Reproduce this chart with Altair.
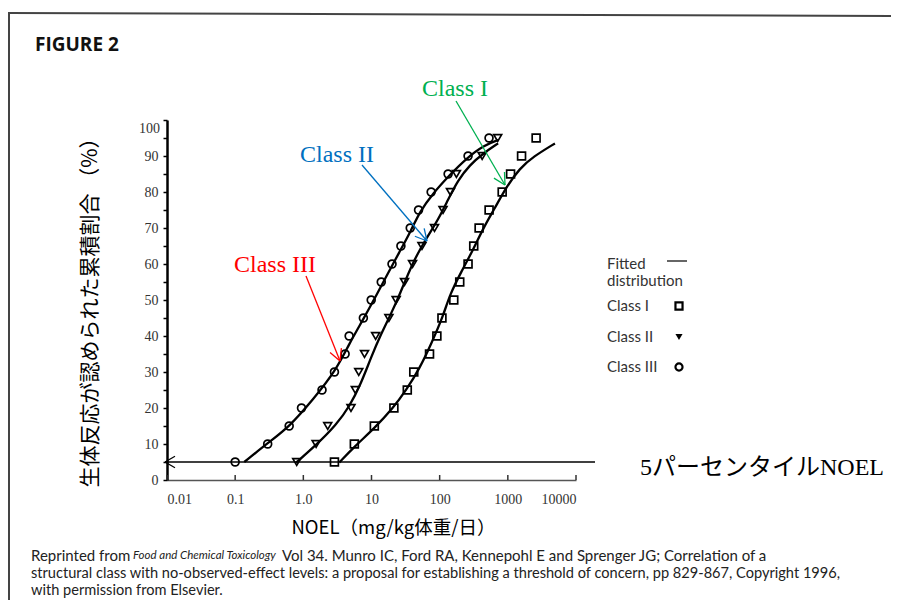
import math
import altair as alt
import pandas as pd

# ---------------- data ----------------
LEVELS = [5, 10, 15, 20, 25, 30, 35, 40, 45, 50, 55, 60, 65, 70, 75, 80, 85, 90, 95]
CLASS1_X = [2.86, 5.6, 11, 21.3, 33.5, 41.7, 71, 91, 108, 161, 197, 261, 316, 379, 531, 826, 1097, 1590, 2600]
CLASS2_X = [0.8, 1.54, 2.28, 5.0, 5.8, 6.5, 7.9, 11.5, 18, 23, 30.5, 40, 55, 84, 112, 144, 176, 420, 710]
CLASS3_X = [0.1, 0.3, 0.62, 0.94, 1.88, 2.86, 4.1, 4.7, 7.6, 9.9, 13.9, 20, 27, 37, 49, 75, 133, 261, 530]

FIT1_X = [3.38, 5.62, 11.1, 20.6, 32.4, 50.8, 75.5, 112, 140, 208, 309, 434, 644, 957, 1500, 2355, 4910]
FIT1_Y = [4.9, 9.3, 14.4, 19.9, 25.0, 31.0, 37.9, 45.4, 51.4, 57.9, 63.9, 69.9, 75.5, 81.5, 86.6, 89.8, 93.5]
FIT2_X = [0.78, 1.54, 3.03, 4.75, 7.06, 9.9, 13.9, 19.5, 25.8, 40.5, 63.6, 94.4, 132, 186, 276, 433, 720]
FIT2_Y = [4.8, 9.7, 15.3, 20.4, 26.9, 34.2, 40.7, 46.3, 51.4, 60.6, 67.1, 72.2, 77.8, 83.3, 87.5, 90.7, 93.5]
FIT3_X = [0.136, 0.316, 0.622, 1.37, 3.03, 4.75, 7.45, 11.1, 15.5, 25.8, 38.4, 50.8, 79.7, 140, 247, 459, 720]
FIT3_Y = [5.0, 10.6, 14.8, 22.2, 30.5, 38.0, 44.4, 50.4, 55.6, 63.4, 69.4, 74.5, 79.6, 84.7, 89.4, 93.1, 94.4]

CLASSES = ["Class I", "Class II", "Class III"]
SHAPES = ["square", "triangle-down", "circle"]
X_TICKS = [0.01, 0.1, 1, 10, 100, 1000, 10000]
X_TICK_LABELS = ["0.01", "0.1", "1.0", "10", "100", "1000", "10000"]
Y_TICKS = list(range(0, 101, 5))
PERCENTILE = [5]

X_TITLE = "NOEL（mg/kg体重/日）"
Y_TITLE = "生体反応が認められた累積割合 （%）"
FOOT1A = "Reprinted from "
FOOT1B = "Food and Chemical Toxicology"
FOOT1C = "Vol 34. Munro IC, Ford RA, Kennepohl E and Sprenger JG; Correlation of a"
FOOT2 = ("structural class with no-observed-effect levels: a proposal for establishing "
         "a threshold of concern, pp 829-867, Copyright 1996,")
FOOT3 = "with permission from Elsevier."

# ---------------- layout ----------------
W, H = 409, 360
X0, Y0 = 167, 120          # page position of plot origin
JP = "Noto Sans CJK JP"
SERIF = "Liberation Serif"
LEG = "Lato"


def px(v):
    return v - X0


def py(v):
    return v - Y0


pts = pd.DataFrame({
    "noel": CLASS1_X + CLASS2_X + CLASS3_X,
    "pct": LEVELS * 3,
    "cls": [CLASSES[0]] * len(CLASS1_X) + [CLASSES[1]] * len(CLASS2_X) + [CLASSES[2]] * len(CLASS3_X),
})
fits = pd.DataFrame({
    "noel": FIT1_X + FIT2_X + FIT3_X,
    "pct": FIT1_Y + FIT2_Y + FIT3_Y,
    "cls": [CLASSES[0]] * len(FIT1_X) + [CLASSES[1]] * len(FIT2_X) + [CLASSES[2]] * len(FIT3_X),
})

# label expression built from the tick lists
expr = "''"
for v, lab in reversed(list(zip(X_TICKS, X_TICK_LABELS))):
    expr = f"(abs(log(datum.value)/log(10) - {math.log10(v):.4f}) < 0.1 ? '{lab}' : {expr})"

xscale = alt.Scale(type="log", domain=[X_TICKS[0], X_TICKS[-1]])
yscale = alt.Scale(domain=[0, 100])

x_enc = alt.X("noel:Q", scale=xscale, axis=alt.Axis(
    values=X_TICKS, labelExpr=expr, ticks=False, grid=False,
    domainColor="#555", domainWidth=1.5, labelPadding=12,
    labelFont=SERIF, labelFontSize=14, labelColor="#333",
    title=X_TITLE, titleFont=JP, titleFontSize=18.5, titleFontWeight="normal",
    titleColor="black", titleX=226, titleY=47, titleBaseline="middle", titleAlign="center"))
y_enc = alt.Y("pct:Q", scale=yscale, axis=alt.Axis(
    values=Y_TICKS, labelExpr="datum.value % 10 == 0 && datum.value < 100 ? datum.label : ''",
    tickSize=4, tickWidth=1.5, tickColor="black", grid=False,
    domainColor="black", domainWidth=2.5, labelPadding=5,
    labelFont=SERIF, labelFontSize=14, labelColor="#333",
    title=Y_TITLE, titleFont=JP, titleFontSize=21, titleFontWeight="normal",
    titleColor="black", titleAngle=-90, titleX=-77, titleY=187,
    titleAlign="center", titleBaseline="middle"))

layers = []

# fitted distributions
layers.append(alt.Chart(fits).mark_line(color="black", strokeWidth=2.3, interpolate="basis")
              .encode(x=x_enc, y=y_enc, detail="cls:N"))

# observed points
layers.append(alt.Chart(pts).mark_point(filled=False, color="black", strokeWidth=1.7, size=62, opacity=1)
              .encode(x=x_enc, y=y_enc,
                      shape=alt.Shape("cls:N", scale=alt.Scale(domain=CLASSES, range=SHAPES), legend=None)))

# inward x-axis ticks
layers.append(alt.Chart(pd.DataFrame({"noel": X_TICKS})).mark_rule(color="#333", strokeWidth=1.5)
              .encode(x=alt.X("noel:Q", scale=xscale), y=alt.value(H), y2=alt.value(H - 5)))

# 5th percentile line
layers.append(alt.Chart(pd.DataFrame({"pct": PERCENTILE})).mark_rule(color="black", strokeWidth=1.5)
              .encode(y=y_enc, x=alt.value(px(165)), x2=alt.value(px(595))))
y5 = H * (1 - PERCENTILE[0] / 100)
for dy in (-5.8, 5.8):
    layers.append(alt.Chart(pd.DataFrame({"a": [0]})).mark_rule(color="black", strokeWidth=1.3)
                  .encode(x=alt.value(px(165)), x2=alt.value(px(175)),
                          y=alt.value(y5), y2=alt.value(y5 + dy)))


def seg(x1, y1, x2, y2, color, width=1.3):
    return (alt.Chart(pd.DataFrame({"a": [0]})).mark_rule(color=color, strokeWidth=width)
            .encode(x=alt.value(px(x1)), y=alt.value(py(y1)), x2=alt.value(px(x2)), y2=alt.value(py(y2))))


def arrow(x1, y1, x2, y2, color, head=13, ang=28):
    out = [seg(x1, y1, x2, y2, color)]
    L = math.hypot(x2 - x1, y2 - y1)
    vx, vy = (x1 - x2) / L, (y1 - y2) / L
    for s in (1, -1):
        a = math.radians(ang) * s
        hx = vx * math.cos(a) - vy * math.sin(a)
        hy = vx * math.sin(a) + vy * math.cos(a)
        out.append(seg(x2, y2, x2 + head * hx, y2 + head * hy, color))
    return out


def text(t, x, y, size, color="black", font=SERIF, align="left", weight="normal", style="normal"):
    return (alt.Chart(pd.DataFrame({"a": [0]}))
            .mark_text(text=t, font=font, fontSize=size, color=color, align=align,
                       baseline="middle", fontWeight=weight, fontStyle=style)
            .encode(x=alt.value(px(x)), y=alt.value(py(y))))


GREEN, BLUE, RED = "#00B050", "#0070C0", "#FF0000"
layers += arrow(456, 101, 505, 185, GREEN)
layers += arrow(362, 165, 427, 241, BLUE)
layers += arrow(306, 276, 340, 361, RED)
layers.append(text("Class I", 455, 89, 24, GREEN, align="center"))
layers.append(text("Class II", 337, 155, 24, BLUE, align="center"))
layers.append(text("Class III", 275, 265, 24, RED, align="center"))
layers.append(text("5パーセンタイルNOEL", 640, 468, 24, "black", font=f"{SERIF}, {JP}"))

# "100" label (drawn slightly lower in the original)
layers.append(text("100", 160, 129, 14, "#333", align="right"))

# legend
layers.append(text("Fitted", 607, 264, 15, "#333", font=LEG))
layers.append(seg(667, 261, 687, 261, "#333", 1.5))
layers.append(text("distribution", 607, 281, 15, "#333", font=LEG))
for lab, shp, yy, filled in zip(CLASSES, SHAPES, [306, 337, 367], [False, True, False]):
    layers.append(text(lab, 607, yy, 15, "#333", font=LEG))
    layers.append(alt.Chart(pd.DataFrame({"a": [0]}))
                  .mark_point(shape=shp, filled=filled, color="black", strokeWidth=2.2, size=50, opacity=1)
                  .encode(x=alt.value(px(679)), y=alt.value(py(yy))))

# heading, footnote, frame
layers.append(text("FIGURE 2", 35, 45, 19, "#111", font="Open Sans", weight="bold"))
layers.append(text(FOOT1A, 31, 556, 15, "#222", font=LEG))
layers.append(text(FOOT1B, 133, 556, 11.5, "#222", font=LEG, style="italic"))
layers.append(text(FOOT1C, 282, 556, 15, "#222", font=LEG))
layers.append(text(FOOT2, 31, 574, 14.6, "#222", font=LEG))
layers.append(text(FOOT3, 31, 591, 14.6, "#222", font=LEG))
layers.append(seg(6, 13, 899, 16, "#444", 2))
layers.append(seg(9, 13, 9, 613, "#444", 2))

chart = (alt.layer(*layers)
         .properties(width=W, height=H, autosize=alt.AutoSizeParams(type="none"),
                     padding={"left": X0 - 8, "top": Y0 - 8, "right": 315, "bottom": 120},
                     background="white")
         .configure_view(stroke=None))

chart.save("out.html", embed_options={"renderer": "svg", "actions": False})
